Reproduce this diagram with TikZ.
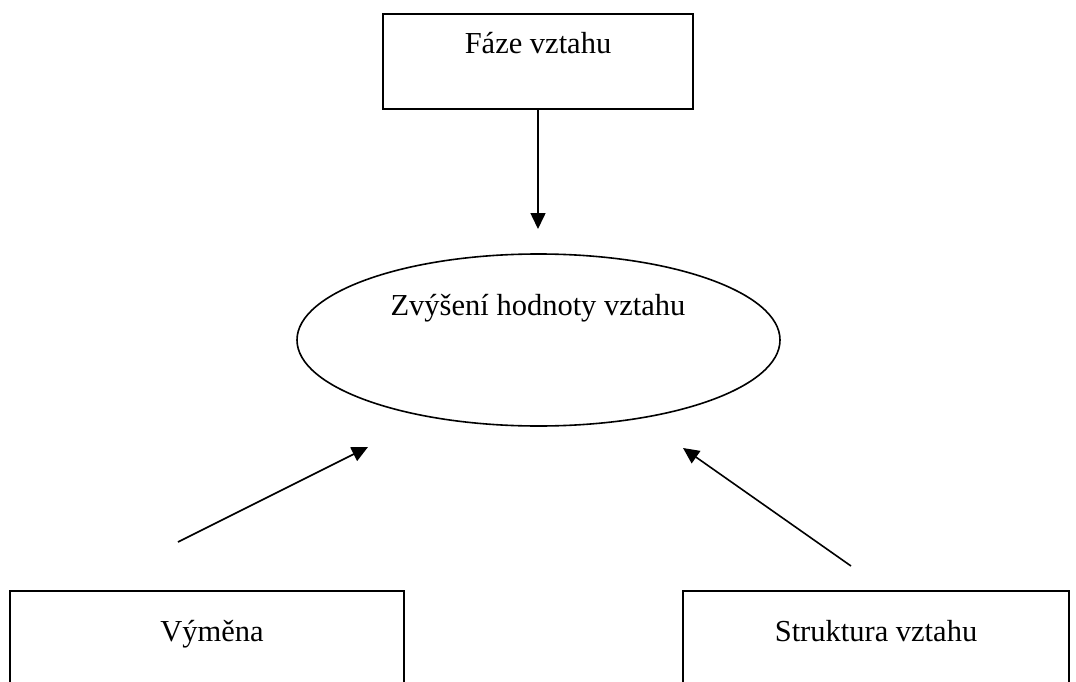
\documentclass[tikz,border=0pt]{standalone}
\usepackage{fontspec}
\setmainfont{Liberation Serif}
\usetikzlibrary{shapes.geometric}
\usetikzlibrary{arrows.meta}

\begin{document}
\begin{tikzpicture}[x=1pt, y=-1pt,
    box/.style = {draw, line width=1.6pt, inner sep=0pt},
    oval/.style = {draw, ellipse, line width=1.6pt, inner sep=0pt},
    txt/.style = {font=\fontsize{30.5}{36}\selectfont, inner sep=0pt, anchor=base},
    arr/.style = {line width=1.6pt, -{Triangle[width=15pt,length=16pt]}}
                    ]
        \useasboundingbox (0,0) rectangle (1076,682);
        \clip (0,0) rectangle (1076,682);
        \def\h{150}
        % boxes
        \node[box, minimum width=310, minimum height=95] (faze) at (538,61.5) {};
        \node[box, minimum width=394, minimum height=\h] (vymena) at (207,666) {};
        \node[box, minimum width=386, minimum height=\h] (struktura) at (876,666) {};
        \node[oval, minimum width=483, minimum height=172] (zvyseni) at (538.5,340) {};
        % texts
        \node[txt] (fazeText) at (538,54) {Fáze vztahu};
        \node[txt] (zvyseniText) at (538,315) {Zvýšení hodnoty vztahu};
        \node[txt] (vymenaText) at (212,641) {Výměna};
        \node[txt] (strukturaText) at (876,641) {Struktura vztahu};
        % arrows
        \coordinate (fazeEnd) at (538,229);
        \coordinate (vymenaStart) at (178,542);
        \coordinate (vymenaEnd) at (368,447);
        \coordinate (strukturaStart) at (851,566);
        \coordinate (strukturaEnd) at (683,448);
        \draw [arr] (faze.south) -- (fazeEnd);
        \draw [arr] (vymenaStart) -- (vymenaEnd);
        \draw [arr] (strukturaStart) -- (strukturaEnd);
    \end{tikzpicture}
\end{document}
